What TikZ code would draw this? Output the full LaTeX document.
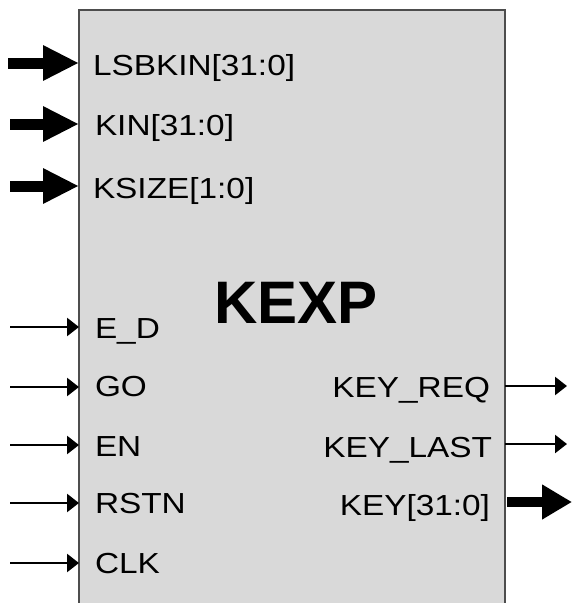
\documentclass[tikz,border=0pt]{standalone}
\usepackage{fontspec}
\setmainfont{Liberation Sans}
\newfontfamily\lblfont[FakeStretch=1.15]{Liberation Sans}
\usetikzlibrary{arrows.meta}
\definecolor{boxfill}{HTML}{D9D9D9}
\definecolor{boxline}{HTML}{4D4D4D}
\tikzset{
  kbox/.style={draw=boxline, fill=boxfill, line width=2pt, outer sep=0pt, inner sep=0pt, rectangle},
  lbl/.style={inner sep=0pt, outer sep=0pt, font=\lblfont\fontsize{29}{34}\selectfont},
  title/.style={inner sep=0pt, outer sep=0pt, font=\fontsize{60}{70}\selectfont\bfseries},
  busarrow/.style={line width=11pt, -{Triangle[length=36pt,width=33pt]}},
  busout/.style={line width=10pt, -{Triangle[length=30pt,width=33pt]}},
  sigarrow/.style={line width=2.5pt, -{Triangle[length=12pt,width=18pt]}}
}
\begin{document}
\begin{tikzpicture}[x=1pt,y=-1pt]
\useasboundingbox (0,0) rectangle (572,603);
\clip (0,0) rectangle (572,603);
\node[kbox, minimum width=426pt, minimum height=610pt, anchor=north west] (kexp) at (79,10) {};
\node[title, anchor=base west] (ttl) at (214,323) {KEXP};
% left labels
\node[lbl, anchor=base west] (lLSB) at (93,75) {LSBKIN[31:0]};
\node[lbl, anchor=base west] (lKIN) at (95,135) {KIN[31:0]};
\node[lbl, anchor=base west] (lKS) at (93,198) {KSIZE[1:0]};
\node[lbl, anchor=base west] (lED) at (95,338) {E\_D};
\node[lbl, anchor=base west] (lGO) at (95,396) {GO};
\node[lbl, anchor=base west] (lEN) at (95,456) {EN};
\node[lbl, anchor=base west] (lRS) at (95,513) {RSTN};
\node[lbl, anchor=base west] (lCLK) at (95,573) {CLK};
% right labels
\node[lbl, anchor=base east] (lREQ) at (490,397) {KEY\_REQ};
\node[lbl, anchor=base east] (lLAST) at (492,457) {KEY\_LAST};
\node[lbl, anchor=base east] (lKEY) at (490,515) {KEY[31:0]};
% input coordinates
\coordinate (iLSB) at (8,63);
\coordinate (iKIN) at (10,124);
\coordinate (iKS) at (10,186);
\coordinate (iED) at (10,327);
\coordinate (iGO) at (10,387);
\coordinate (iEN) at (10,445);
\coordinate (iRS) at (10,503);
\coordinate (iCLK) at (10,563);
% output coordinates
\coordinate (oREQ) at (567,386);
\coordinate (oLAST) at (567,444);
\coordinate (oKEY) at (572,502);
% input arrows
\draw[busarrow] (iLSB) -- (iLSB -| kexp.west);
\draw[busarrow] (iKIN) -- (iKIN -| kexp.west);
\draw[busarrow] (iKS) -- (iKS -| kexp.west);
\draw[sigarrow] (iED) -- (iED -| kexp.west);
\draw[sigarrow] (iGO) -- (iGO -| kexp.west);
\draw[sigarrow] (iEN) -- (iEN -| kexp.west);
\draw[sigarrow] (iRS) -- (iRS -| kexp.west);
\draw[sigarrow] (iCLK) -- (iCLK -| kexp.west);
% output arrows
\draw[sigarrow] (oREQ -| kexp.east) -- (oREQ);
\draw[sigarrow] (oLAST -| kexp.east) -- (oLAST);
\draw[busout] ([xshift=2pt]oKEY -| kexp.east) -- (oKEY);
\end{tikzpicture}
\end{document}
